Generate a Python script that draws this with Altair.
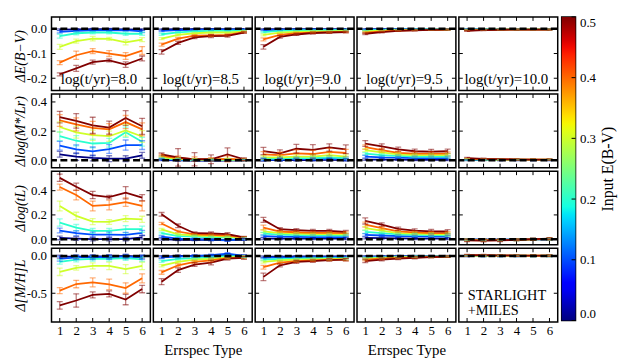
import altair as alt
import pandas as pd
import numpy as np

EBV = [0.0, 0.1, 0.2, 0.3, 0.4, 0.5]
ERRSPEC = [1, 2, 3, 4, 5, 6]
AGES = ["8.0", "8.5", "9.0", "9.5", "10.0"]
YTITLES = ["ΔE(B−V)", "Δlog(M*/Lr)", "Δlog(tL)", "Δ[M/H]L"]
YTICKS = [[0.0, -0.1, -0.2], [0.0, 0.2, 0.4], [0.0, 0.2, 0.4], [0.0, -0.5]]
YDOMAINS = [[-0.25, 0.048], [-0.051, 0.454], [-0.047, 0.561], [-0.885, 0.103]]

# values: [age panel][E(B-V) series][errspec type]
DEBV = [
    [[-0.003, -0.002, -0.001, -0.001, -0.002, -0.003],
     [-0.012, -0.008, -0.006, -0.006, -0.005, -0.010],
     [-0.030, -0.018, -0.015, -0.015, -0.020, -0.020],
     [-0.073, -0.050, -0.040, -0.041, -0.055, -0.044],
     [-0.137, -0.107, -0.090, -0.100, -0.110, -0.088],
     [-0.184, -0.160, -0.135, -0.128, -0.145, -0.120]],
    [[-0.002, -0.001, -0.001, -0.001, -0.001, -0.001],
     [-0.008, -0.005, -0.004, -0.003, -0.003, -0.003],
     [-0.022, -0.014, -0.010, -0.008, -0.008, -0.006],
     [-0.040, -0.025, -0.018, -0.015, -0.015, -0.010],
     [-0.064, -0.040, -0.028, -0.027, -0.025, -0.013],
     [-0.093, -0.057, -0.035, -0.030, -0.029, -0.015]],
    [[-0.001, -0.001, -0.001, -0.001, -0.001, -0.001],
     [-0.005, -0.004, -0.003, -0.003, -0.003, -0.003],
     [-0.013, -0.008, -0.006, -0.005, -0.005, -0.004],
     [-0.025, -0.015, -0.012, -0.010, -0.010, -0.008],
     [-0.043, -0.025, -0.018, -0.015, -0.013, -0.012],
     [-0.073, -0.033, -0.023, -0.017, -0.015, -0.013]],
    [[-0.001, -0.001, -0.001, -0.001, -0.001, -0.001],
     [-0.003, -0.002, -0.002, -0.001, -0.001, -0.001],
     [-0.006, -0.004, -0.003, -0.002, -0.002, -0.002],
     [-0.010, -0.007, -0.005, -0.004, -0.003, -0.003],
     [-0.015, -0.010, -0.007, -0.005, -0.004, -0.003],
     [-0.020, -0.013, -0.008, -0.006, -0.004, -0.003]],
    [[-0.001, -0.001, -0.001, -0.001, -0.001, -0.001],
     [-0.002, -0.002, -0.001, -0.001, -0.001, -0.001],
     [-0.003, -0.002, -0.002, -0.002, -0.002, -0.002],
     [-0.004, -0.003, -0.003, -0.002, -0.002, -0.002],
     [-0.006, -0.004, -0.003, -0.003, -0.003, -0.003],
     [-0.008, -0.005, -0.004, -0.003, -0.003, -0.003]],
]
DEBV_ERR = [
    [[0.003, 0.003, 0.003, 0.003, 0.003, 0.003],
     [0.005, 0.004, 0.004, 0.004, 0.004, 0.005],
     [0.008, 0.006, 0.005, 0.005, 0.007, 0.006],
     [0.010, 0.008, 0.009, 0.006, 0.010, 0.008],
     [0.008, 0.017, 0.010, 0.012, 0.014, 0.016],
     [0.006, 0.012, 0.008, 0.006, 0.011, 0.010]],
    [[0.002, 0.002, 0.002, 0.002, 0.002, 0.002],
     [0.003, 0.002, 0.002, 0.002, 0.002, 0.002],
     [0.004, 0.003, 0.003, 0.003, 0.003, 0.002],
     [0.004, 0.004, 0.003, 0.003, 0.003, 0.003],
     [0.006, 0.005, 0.004, 0.004, 0.004, 0.003],
     [0.009, 0.006, 0.005, 0.006, 0.005, 0.003]],
    [[0.002, 0.002, 0.002, 0.002, 0.002, 0.002],
     [0.002, 0.002, 0.002, 0.002, 0.002, 0.002],
     [0.003, 0.003, 0.002, 0.002, 0.002, 0.002],
     [0.004, 0.003, 0.003, 0.003, 0.003, 0.003],
     [0.006, 0.004, 0.003, 0.003, 0.003, 0.003],
     [0.009, 0.005, 0.004, 0.004, 0.003, 0.003]],
    [[0.002, 0.002, 0.002, 0.002, 0.002, 0.002],
     [0.002, 0.002, 0.002, 0.002, 0.002, 0.002],
     [0.002, 0.002, 0.002, 0.002, 0.002, 0.002],
     [0.002, 0.002, 0.002, 0.002, 0.002, 0.002],
     [0.003, 0.002, 0.002, 0.002, 0.002, 0.002],
     [0.003, 0.003, 0.002, 0.002, 0.002, 0.002]],
    [[0.002, 0.002, 0.002, 0.002, 0.002, 0.002],
     [0.002, 0.002, 0.002, 0.002, 0.002, 0.002],
     [0.002, 0.002, 0.002, 0.002, 0.002, 0.002],
     [0.002, 0.002, 0.002, 0.002, 0.002, 0.002],
     [0.002, 0.002, 0.002, 0.002, 0.002, 0.002],
     [0.002, 0.002, 0.002, 0.002, 0.002, 0.002]],
]

MLR = [
    [[0.041, 0.025, 0.016, 0.011, 0.011, 0.034],
     [0.100, 0.075, 0.061, 0.077, 0.104, 0.104],
     [0.165, 0.134, 0.115, 0.120, 0.192, 0.127],
     [0.228, 0.192, 0.172, 0.165, 0.205, 0.163],
     [0.273, 0.246, 0.222, 0.212, 0.262, 0.212],
     [0.296, 0.270, 0.240, 0.224, 0.290, 0.233]],
    [[0.002, 0.000, -0.003, -0.003, -0.002, 0.000],
     [0.006, 0.003, 0.000, 0.000, 0.001, 0.002],
     [0.012, 0.006, 0.002, 0.002, 0.004, 0.003],
     [0.020, 0.010, 0.005, 0.004, 0.006, 0.003],
     [0.030, 0.015, 0.008, 0.006, 0.010, 0.005],
     [0.040, 0.020, 0.007, 0.007, 0.040, 0.007]],
    [[0.001, 0.001, 0.002, 0.002, 0.003, 0.002],
     [0.005, 0.005, 0.008, 0.008, 0.010, 0.006],
     [0.012, 0.012, 0.015, 0.015, 0.020, 0.015],
     [0.020, 0.020, 0.025, 0.025, 0.035, 0.025],
     [0.040, 0.035, 0.047, 0.043, 0.057, 0.050],
     [0.063, 0.047, 0.079, 0.072, 0.088, 0.075]],
    [[0.005, 0.004, 0.004, 0.003, 0.003, 0.003],
     [0.025, 0.020, 0.018, 0.015, 0.015, 0.015],
     [0.045, 0.035, 0.030, 0.025, 0.025, 0.025],
     [0.070, 0.055, 0.040, 0.035, 0.035, 0.035],
     [0.090, 0.070, 0.050, 0.045, 0.045, 0.045],
     [0.115, 0.095, 0.075, 0.062, 0.060, 0.062]],
    [[0.002, 0.001, 0.001, 0.001, 0.001, 0.001],
     [0.004, 0.003, 0.002, 0.002, 0.002, 0.002],
     [0.006, 0.004, 0.003, 0.003, 0.003, 0.003],
     [0.008, 0.006, 0.004, 0.004, 0.004, 0.004],
     [0.011, 0.008, 0.006, 0.005, 0.005, 0.005],
     [0.015, 0.010, 0.008, 0.006, 0.005, 0.005]],
]
MLR_ERR = [
    [[0.020, 0.025, 0.020, 0.020, 0.020, 0.020],
     [0.030, 0.030, 0.030, 0.030, 0.035, 0.030],
     [0.030, 0.035, 0.030, 0.030, 0.035, 0.030],
     [0.035, 0.040, 0.035, 0.035, 0.040, 0.040],
     [0.040, 0.045, 0.045, 0.040, 0.045, 0.045],
     [0.040, 0.050, 0.055, 0.045, 0.050, 0.055]],
    [[0.005, 0.005, 0.005, 0.005, 0.005, 0.005],
     [0.005, 0.005, 0.005, 0.005, 0.005, 0.005],
     [0.006, 0.006, 0.005, 0.005, 0.006, 0.005],
     [0.008, 0.008, 0.006, 0.006, 0.008, 0.006],
     [0.010, 0.015, 0.015, 0.012, 0.020, 0.008],
     [0.010, 0.060, 0.045, 0.030, 0.045, 0.010]],
    [[0.008, 0.008, 0.008, 0.008, 0.008, 0.008],
     [0.008, 0.008, 0.008, 0.008, 0.008, 0.008],
     [0.008, 0.008, 0.008, 0.008, 0.010, 0.008],
     [0.012, 0.012, 0.012, 0.012, 0.012, 0.012],
     [0.020, 0.020, 0.025, 0.025, 0.025, 0.025],
     [0.025, 0.025, 0.030, 0.035, 0.025, 0.030]],
    [[0.005, 0.005, 0.005, 0.005, 0.005, 0.005],
     [0.008, 0.008, 0.008, 0.008, 0.008, 0.008],
     [0.008, 0.008, 0.008, 0.008, 0.008, 0.008],
     [0.010, 0.010, 0.010, 0.010, 0.010, 0.010],
     [0.015, 0.012, 0.012, 0.012, 0.012, 0.012],
     [0.020, 0.018, 0.015, 0.015, 0.015, 0.015]],
    [[0.004, 0.004, 0.004, 0.004, 0.004, 0.004],
     [0.004, 0.004, 0.004, 0.004, 0.004, 0.004],
     [0.004, 0.004, 0.004, 0.004, 0.004, 0.004],
     [0.004, 0.004, 0.004, 0.004, 0.004, 0.004],
     [0.004, 0.004, 0.004, 0.004, 0.004, 0.004],
     [0.005, 0.004, 0.004, 0.004, 0.004, 0.004]],
]

TL = [
    [[0.010, 0.005, 0.000, 0.000, 0.000, 0.015],
     [0.071, 0.049, 0.038, 0.038, 0.035, 0.052],
     [0.137, 0.096, 0.068, 0.068, 0.082, 0.082],
     [0.274, 0.192, 0.145, 0.142, 0.170, 0.164],
     [0.430, 0.364, 0.274, 0.282, 0.306, 0.274],
     [0.506, 0.432, 0.364, 0.347, 0.383, 0.342]],
    [[0.000, -0.005, -0.005, -0.005, -0.008, -0.003],
     [0.020, 0.005, 0.000, -0.005, -0.010, 0.000],
     [0.050, 0.025, 0.020, 0.015, 0.012, 0.008],
     [0.080, 0.040, 0.030, 0.025, 0.020, 0.012],
     [0.129, 0.063, 0.040, 0.035, 0.030, 0.014],
     [0.205, 0.110, 0.049, 0.047, 0.041, 0.014]],
    [[0.005, 0.004, 0.004, 0.004, 0.004, 0.004],
     [0.025, 0.020, 0.018, 0.017, 0.017, 0.016],
     [0.045, 0.037, 0.033, 0.032, 0.032, 0.030],
     [0.065, 0.050, 0.045, 0.042, 0.042, 0.040],
     [0.096, 0.063, 0.057, 0.052, 0.052, 0.050],
     [0.159, 0.082, 0.074, 0.068, 0.068, 0.060]],
    [[0.010, 0.008, 0.006, 0.005, 0.005, 0.005],
     [0.035, 0.030, 0.025, 0.022, 0.020, 0.020],
     [0.060, 0.050, 0.040, 0.035, 0.033, 0.032],
     [0.090, 0.070, 0.050, 0.045, 0.042, 0.040],
     [0.120, 0.090, 0.065, 0.055, 0.050, 0.050],
     [0.150, 0.120, 0.085, 0.070, 0.065, 0.063]],
    [[-0.003, -0.004, -0.004, -0.003, -0.002, -0.001],
     [-0.004, -0.005, -0.005, -0.004, -0.002, 0.000],
     [-0.005, -0.006, -0.006, -0.004, -0.002, 0.001],
     [-0.006, -0.007, -0.007, -0.005, -0.002, 0.002],
     [-0.008, -0.009, -0.008, -0.005, -0.001, 0.003],
     [-0.010, -0.012, -0.010, -0.005, 0.000, 0.005]],
]
TL_ERR = [
    [[0.015, 0.015, 0.015, 0.015, 0.015, 0.015],
     [0.020, 0.020, 0.020, 0.020, 0.020, 0.020],
     [0.030, 0.025, 0.020, 0.020, 0.030, 0.025],
     [0.040, 0.030, 0.025, 0.020, 0.025, 0.025],
     [0.025, 0.040, 0.040, 0.040, 0.035, 0.040],
     [0.030, 0.030, 0.030, 0.015, 0.050, 0.025]],
    [[0.008, 0.008, 0.008, 0.008, 0.008, 0.008],
     [0.008, 0.008, 0.008, 0.008, 0.008, 0.008],
     [0.008, 0.008, 0.008, 0.008, 0.008, 0.008],
     [0.008, 0.008, 0.008, 0.008, 0.008, 0.008],
     [0.010, 0.010, 0.008, 0.008, 0.008, 0.006],
     [0.015, 0.015, 0.010, 0.012, 0.012, 0.008]],
    [[0.008, 0.008, 0.008, 0.008, 0.008, 0.008],
     [0.008, 0.008, 0.008, 0.008, 0.008, 0.008],
     [0.010, 0.008, 0.008, 0.008, 0.008, 0.008],
     [0.012, 0.010, 0.010, 0.010, 0.010, 0.010],
     [0.020, 0.012, 0.012, 0.012, 0.012, 0.012],
     [0.020, 0.012, 0.012, 0.012, 0.012, 0.012]],
    [[0.008, 0.008, 0.008, 0.008, 0.008, 0.008],
     [0.010, 0.010, 0.010, 0.010, 0.010, 0.010],
     [0.012, 0.010, 0.010, 0.010, 0.010, 0.010],
     [0.015, 0.012, 0.012, 0.012, 0.012, 0.012],
     [0.020, 0.012, 0.012, 0.012, 0.012, 0.012],
     [0.025, 0.015, 0.015, 0.015, 0.015, 0.015]],
    [[0.008, 0.008, 0.008, 0.008, 0.008, 0.008],
     [0.008, 0.008, 0.008, 0.008, 0.008, 0.008],
     [0.008, 0.008, 0.008, 0.008, 0.008, 0.008],
     [0.008, 0.008, 0.008, 0.008, 0.008, 0.008],
     [0.008, 0.008, 0.008, 0.008, 0.008, 0.008],
     [0.010, 0.010, 0.010, 0.008, 0.008, 0.008]],
]

MH = [
    [[-0.010, -0.008, -0.005, -0.005, 0.000, -0.010],
     [-0.040, -0.020, -0.020, -0.015, -0.010, -0.020],
     [-0.080, -0.050, -0.040, -0.040, -0.030, -0.045],
     [-0.212, -0.159, -0.133, -0.133, -0.177, -0.133],
     [-0.464, -0.376, -0.354, -0.380, -0.430, -0.300],
     [-0.663, -0.597, -0.522, -0.509, -0.584, -0.443]],
    [[-0.010, 0.000, 0.000, 0.000, 0.010, 0.000],
     [-0.020, -0.010, 0.000, 0.010, 0.030, 0.000],
     [-0.070, -0.040, -0.030, -0.020, 0.000, -0.010],
     [-0.130, -0.080, -0.050, -0.040, -0.020, -0.010],
     [-0.220, -0.125, -0.080, -0.060, -0.030, -0.020],
     [-0.345, -0.190, -0.115, -0.090, -0.035, -0.025]],
    [[-0.010, -0.008, -0.006, -0.005, -0.005, -0.005],
     [-0.025, -0.020, -0.018, -0.015, -0.015, -0.015],
     [-0.050, -0.040, -0.035, -0.030, -0.030, -0.030],
     [-0.080, -0.060, -0.050, -0.045, -0.040, -0.040],
     [-0.150, -0.090, -0.070, -0.060, -0.050, -0.050],
     [-0.280, -0.125, -0.080, -0.070, -0.055, -0.050]],
    [[-0.005, -0.004, -0.003, -0.002, -0.002, -0.002],
     [-0.015, -0.010, -0.008, -0.006, -0.005, -0.004],
     [-0.025, -0.018, -0.013, -0.010, -0.008, -0.006],
     [-0.035, -0.025, -0.018, -0.013, -0.010, -0.008],
     [-0.050, -0.035, -0.025, -0.018, -0.013, -0.010],
     [-0.070, -0.050, -0.035, -0.025, -0.015, -0.010]],
    [[0.000, 0.000, 0.000, 0.000, 0.000, 0.000],
     [0.002, 0.002, 0.001, 0.001, 0.001, 0.001],
     [0.004, 0.003, 0.003, 0.002, 0.002, 0.002],
     [0.006, 0.005, 0.004, 0.004, 0.003, 0.003],
     [0.009, 0.007, 0.006, 0.005, 0.004, 0.004],
     [0.012, 0.010, 0.008, 0.006, 0.005, 0.004]],
]
MH_ERR = [
    [[0.020, 0.020, 0.020, 0.020, 0.020, 0.020],
     [0.030, 0.030, 0.030, 0.030, 0.030, 0.030],
     [0.030, 0.030, 0.030, 0.030, 0.030, 0.030],
     [0.050, 0.030, 0.040, 0.050, 0.060, 0.050],
     [0.040, 0.050, 0.060, 0.070, 0.070, 0.060],
     [0.050, 0.090, 0.040, 0.040, 0.070, 0.050]],
    [[0.015, 0.015, 0.015, 0.015, 0.015, 0.015],
     [0.015, 0.015, 0.015, 0.015, 0.015, 0.015],
     [0.015, 0.015, 0.015, 0.015, 0.015, 0.015],
     [0.015, 0.015, 0.015, 0.015, 0.015, 0.015],
     [0.025, 0.020, 0.020, 0.020, 0.015, 0.015],
     [0.040, 0.030, 0.025, 0.030, 0.020, 0.020]],
    [[0.010, 0.010, 0.010, 0.010, 0.010, 0.010],
     [0.010, 0.010, 0.010, 0.010, 0.010, 0.010],
     [0.012, 0.012, 0.012, 0.012, 0.012, 0.012],
     [0.015, 0.015, 0.015, 0.015, 0.015, 0.015],
     [0.025, 0.020, 0.015, 0.015, 0.015, 0.015],
     [0.050, 0.020, 0.020, 0.015, 0.015, 0.015]],
    [[0.010, 0.010, 0.010, 0.010, 0.010, 0.010],
     [0.010, 0.010, 0.010, 0.010, 0.010, 0.010],
     [0.010, 0.010, 0.010, 0.010, 0.010, 0.010],
     [0.012, 0.010, 0.010, 0.010, 0.010, 0.010],
     [0.015, 0.012, 0.010, 0.010, 0.010, 0.010],
     [0.020, 0.015, 0.012, 0.012, 0.010, 0.010]],
    [[0.010, 0.010, 0.010, 0.010, 0.010, 0.010],
     [0.010, 0.010, 0.010, 0.010, 0.010, 0.010],
     [0.010, 0.010, 0.010, 0.010, 0.010, 0.010],
     [0.010, 0.010, 0.010, 0.010, 0.010, 0.010],
     [0.010, 0.010, 0.010, 0.010, 0.010, 0.010],
     [0.010, 0.010, 0.010, 0.010, 0.010, 0.010]],
]

ROWS = [(DEBV, DEBV_ERR), (MLR, MLR_ERR), (TL, TL_ERR), (MH, MH_ERR)]

FONT = "Liberation Serif, DejaVu Serif, serif"
W, H = 100, 74.5
TITLE_Y = [H / 2 + 2, H / 2, H / 2, H / 2]


def jet(t):
    r = np.interp(t, [0, 0.35, 0.66, 0.89, 1], [0, 0, 1, 1, 0.5])
    g = np.interp(t, [0, 0.125, 0.375, 0.64, 0.91, 1], [0, 0, 1, 1, 0, 0])
    b = np.interp(t, [0, 0.11, 0.34, 0.65, 1], [0.5, 1, 1, 0, 0])
    return "#%02x%02x%02x" % (int(round(r * 255)), int(round(g * 255)), int(round(b * 255)))


COLORS = [jet(e / 0.5) for e in EBV]
LABEL_EXPR = "datum.value < 0 ? '-' + format(-datum.value, '.1f') : format(datum.value, '.1f')"


def panel(r, c):
    vals, errs = ROWS[r][0][c], ROWS[r][1][c]
    recs = []
    for k, e in enumerate(EBV):
        for j, x in enumerate(ERRSPEC):
            v = vals[k][j]
            er = errs[k][j]
            recs.append(dict(ebv=e, x=x, y=v, lo=v - er, hi=v + er))
    df = pd.DataFrame(recs)

    xs = alt.Scale(domain=[0.5, 6.5], nice=False, zero=False)
    ys = alt.Scale(domain=YDOMAINS[r], nice=False, zero=False)

    if c == 0:
        yaxis = alt.Axis(values=YTICKS[r], title=YTITLES[r], ticks=False, tickSize=0,
                         domain=False, grid=False, labelExpr=LABEL_EXPR, labelPadding=5,
                         titleX=-31, titleY=TITLE_Y[r], titleAngle=270, titleAlign="center",
                         titleBaseline="middle", titleFontStyle="italic", titleFontSize=14)
    else:
        yaxis = None
    if r == 3:
        xaxis = alt.Axis(values=ERRSPEC, format="d", ticks=False, tickSize=0, domain=False,
                         grid=False, labelPadding=3, labelFlush=False,
                         title=("Errspec Type" if c in (1, 3) else None), titlePadding=5)
    else:
        xaxis = None

    def X(f):
        return alt.X(f, type="quantitative", scale=xs, axis=xaxis)

    def Y(f):
        return alt.Y(f, type="quantitative", scale=ys, axis=yaxis)

    col = alt.Color("ebv:O", scale=alt.Scale(domain=EBV, range=COLORS), legend=None)

    lines = alt.Chart(df).mark_line(strokeWidth=1.8, clip=True).encode(
        x=X("x"), y=Y("y"), color=col)
    ebar = alt.Chart(df).mark_rule(strokeWidth=1.3, opacity=0.5, clip=True).encode(
        x=X("x"), y=Y("lo"), y2="hi", color=col)
    cap_lo = alt.Chart(df).mark_tick(orient="horizontal", size=6, thickness=1.3,
                                     opacity=0.5, clip=True).encode(x=X("x"), y=Y("lo"), color=col)
    cap_hi = alt.Chart(df).mark_tick(orient="horizontal", size=6, thickness=1.3,
                                     opacity=0.5, clip=True).encode(x=X("x"), y=Y("hi"), color=col)

    zero = alt.Chart(pd.DataFrame({"z": [0.0]})).mark_rule(
        color="black", strokeDash=[7, 3.5], strokeWidth=2.5).encode(y=Y("z"))

    ytk = pd.DataFrame({"v": YTICKS[r]})
    xtk = pd.DataFrame({"v": ERRSPEC})
    tl = alt.Chart(ytk).mark_rule(color="black", strokeWidth=1).encode(
        y=Y("v"), x=alt.value(0), x2=alt.value(4))
    tr = alt.Chart(ytk).mark_rule(color="black", strokeWidth=1).encode(
        y=Y("v"), x=alt.value(W - 4), x2=alt.value(W))
    tt = alt.Chart(xtk).mark_rule(color="black", strokeWidth=1).encode(
        x=X("v"), y=alt.value(0), y2=alt.value(4))
    tb = alt.Chart(xtk).mark_rule(color="black", strokeWidth=1).encode(
        x=X("v"), y=alt.value(H - 4), y2=alt.value(H))

    layers = [tl, tr, tt, tb, lines, ebar, cap_lo, cap_hi, zero]

    if r == 0:
        txt = alt.Chart(pd.DataFrame({"t": ["log(t/yr)=" + AGES[c]]})).mark_text(
            font=FONT, fontSize=15, align="center", baseline="middle", color="black"
        ).encode(text="t:N", x=alt.value(W / 2 - 2), y=alt.value(63))
        layers.append(txt)
    if r == 3 and c == 4:
        txt = alt.Chart(pd.DataFrame({"t": ["STARLIGHT\n+MILES"]})).mark_text(
            font=FONT, fontSize=14.5, align="left", baseline="top", color="black",
            lineBreak="\n", lineHeight=15
        ).encode(text="t:N", x=alt.value(9), y=alt.value(41))
        layers.append(txt)

    return alt.layer(*layers).properties(width=W, height=H)


panels = [panel(r, c) for r in range(4) for c in range(5)]
grid = alt.concat(*panels, columns=5, spacing=3, bounds="flush")

stops = [alt.GradientStop(color=jet(t), offset=float(t)) for t in np.linspace(0, 1, 41)]
grad = alt.LinearGradient(gradient="linear", stops=stops, x1=0, x2=0, y1=1, y2=0)
cb_scale = alt.Scale(domain=[0.0, 0.5], nice=False, zero=False)
cb_axis = alt.Axis(orient="right", values=EBV, format=".1f", ticks=False, tickSize=0,
                   domain=False, grid=False, labelFlush=True, labelPadding=4,
                   title="Input E(B-V)", titleAngle=270, titleX=32, titleY=153.5,
                   titleAlign="center", titleBaseline="middle", titleFontSize=16)
cb_rect = alt.Chart(pd.DataFrame({"lo": [0.0], "hi": [0.5]})).mark_rect(fill=grad).encode(
    y=alt.Y("lo:Q", scale=cb_scale, axis=cb_axis), y2="hi:Q",
    x=alt.value(0), x2=alt.value(14))
cb_ticks = alt.Chart(pd.DataFrame({"lo": EBV})).mark_rule(color="black", strokeWidth=1).encode(
    y=alt.Y("lo:Q", scale=cb_scale, axis=cb_axis), x=alt.value(10), x2=alt.value(14))
colorbar = alt.layer(cb_rect, cb_ticks).properties(width=14, height=307)

chart = alt.hconcat(grid, colorbar, spacing=1).configure_view(
    stroke="black", strokeWidth=1.5
).configure_axis(
    labelFont=FONT, titleFont=FONT, labelFontSize=13, titleFontSize=15,
    labelColor="black", titleColor="black", titleFontWeight="normal"
).properties(padding=5, background="white")

chart.save("out.html", embed_options={"renderer": "svg", "actions": False})
